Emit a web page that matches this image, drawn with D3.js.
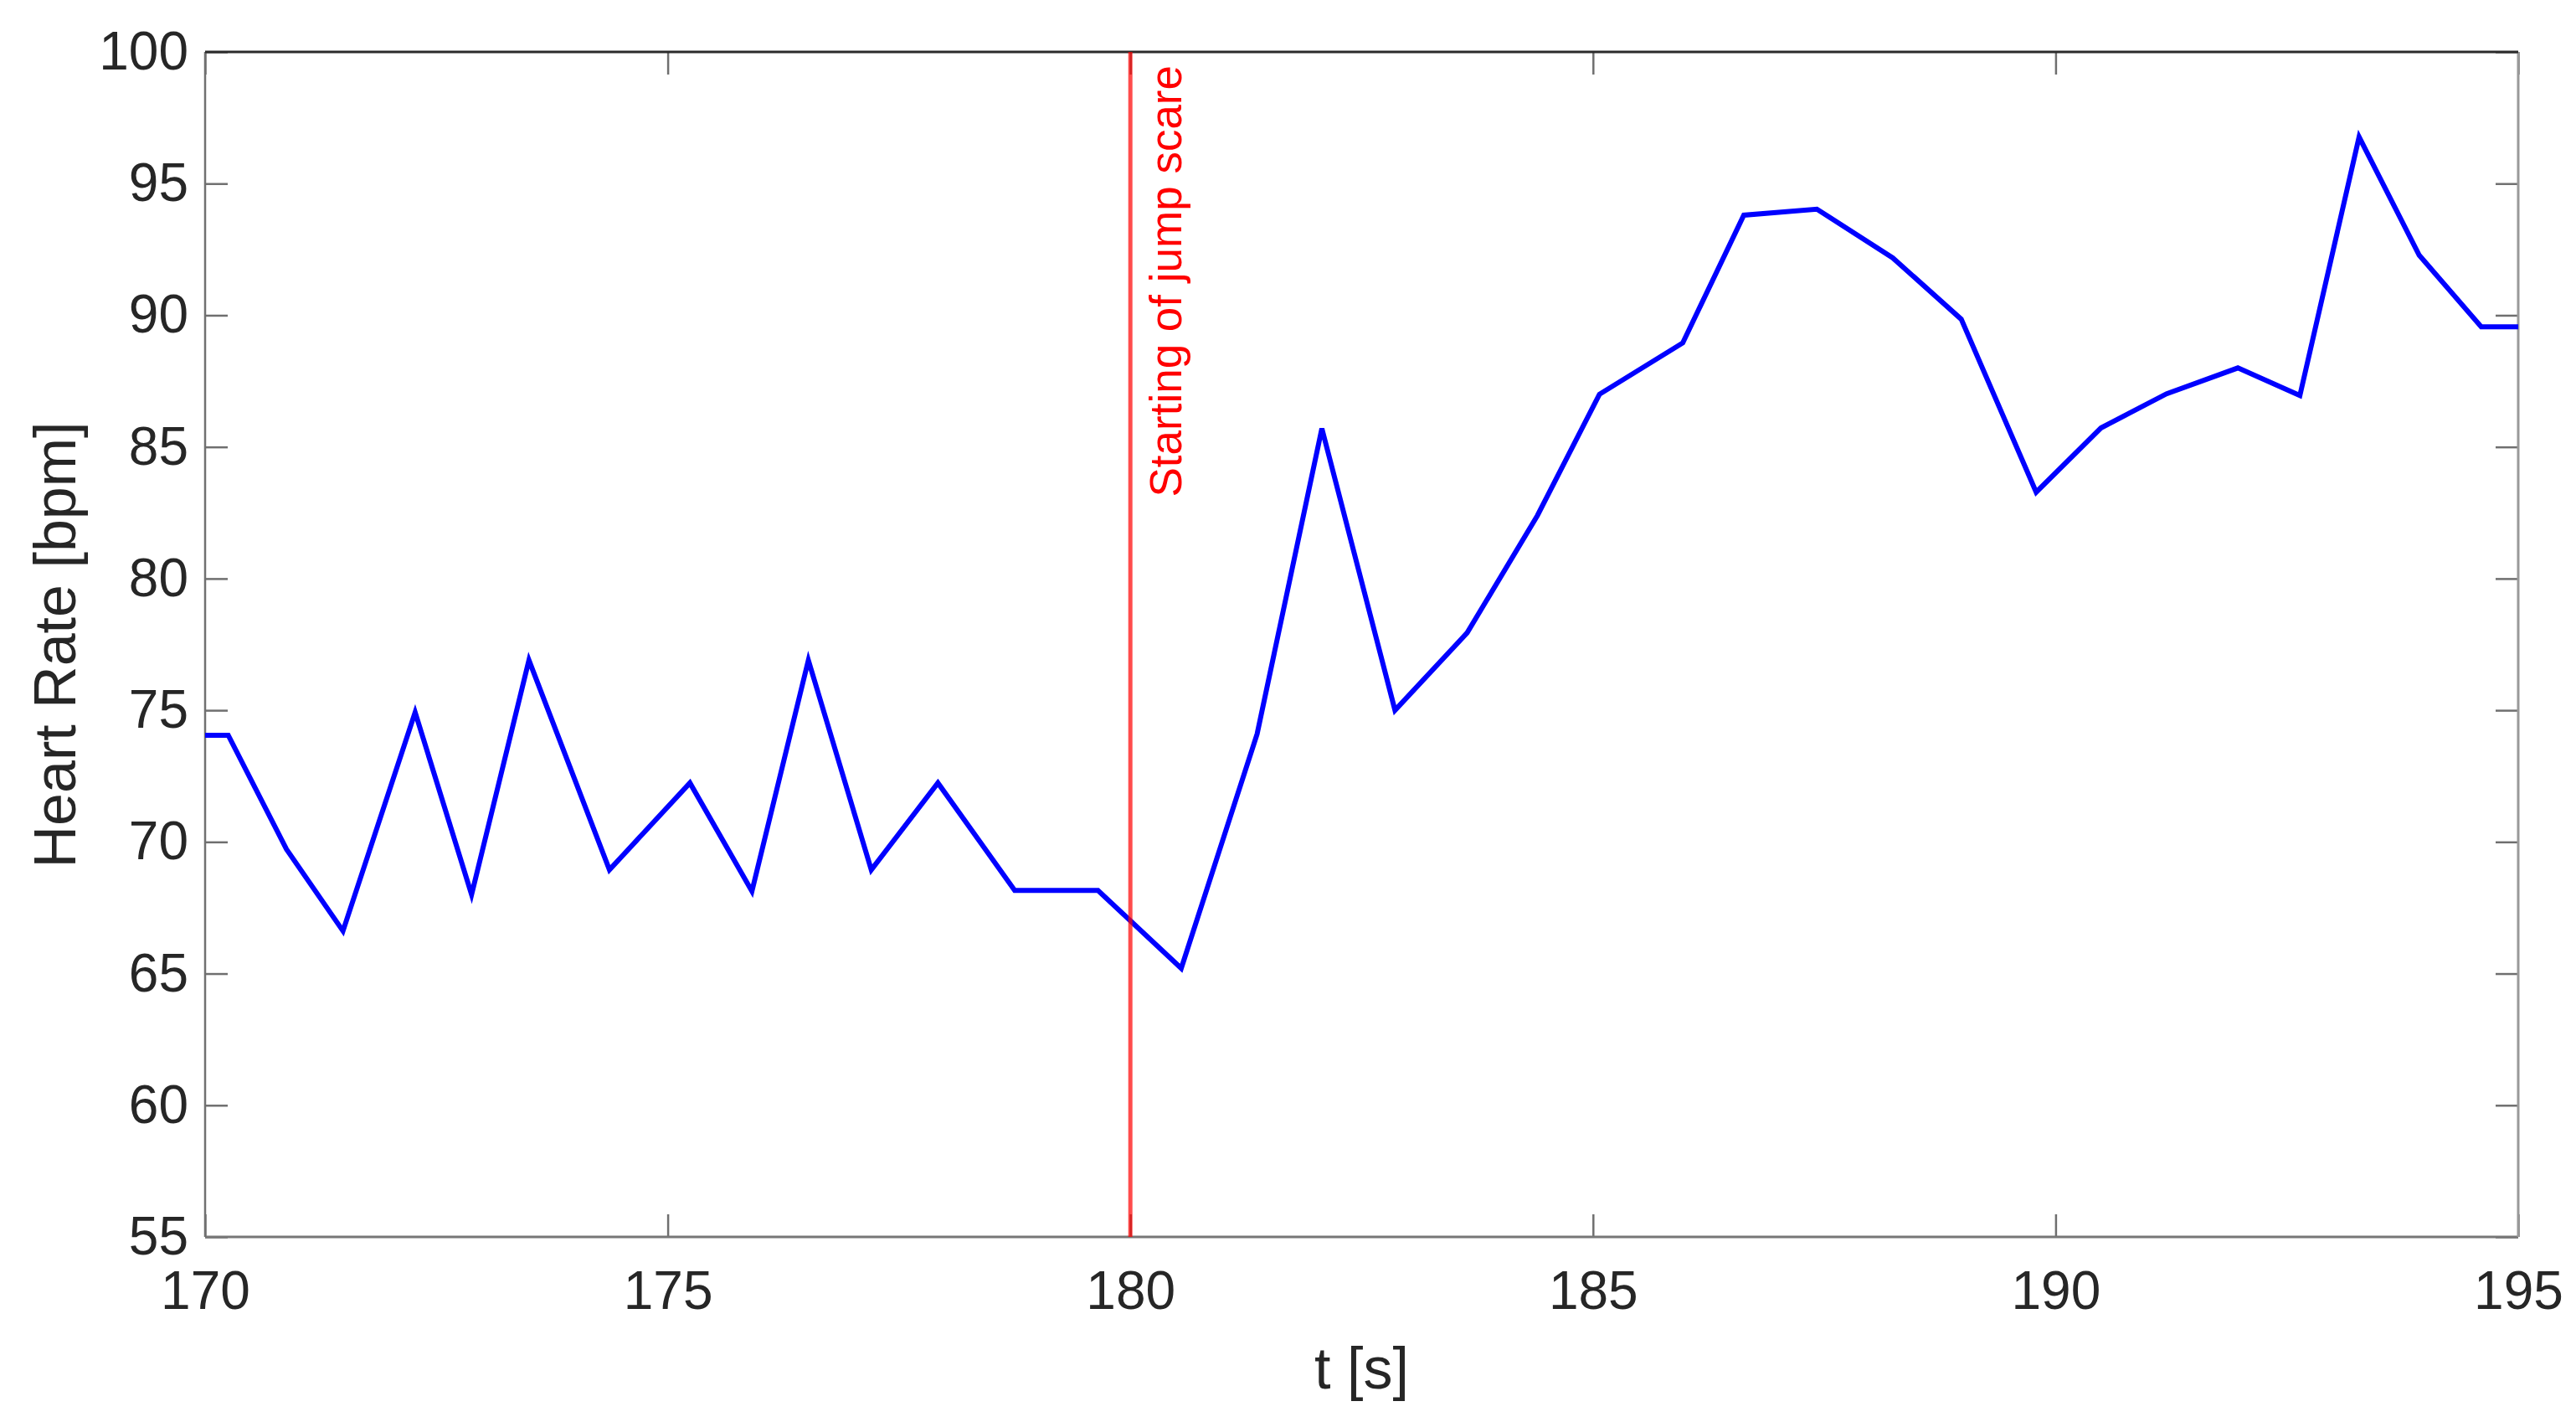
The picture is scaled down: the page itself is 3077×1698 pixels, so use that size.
<!DOCTYPE html>
<html>
<head>
<meta charset="utf-8">
<script src="https://cdn.jsdelivr.net/npm/d3@7"></script>
<style>
  html, body { margin: 0; padding: 0; background: #fff; }
  svg { display: block; font-family: "Liberation Sans", Arial, sans-serif; }
</style>
</head>
<body>
<svg id="chart" width="3077" height="1698"></svg>
<script>
// ---- data ----
const timeS = [170, 170.25, 170.88, 171.49, 172.27, 172.88, 173.5, 174.37, 175.24, 175.91,
               176.52, 177.2, 177.92, 178.75, 179.65, 180.55, 181.37, 182.07, 182.86, 183.64,
               184.4, 185.07, 185.97, 186.63, 187.42, 188.24, 188.98, 189.79, 190.49, 191.2,
               191.97, 192.64, 193.28, 193.93, 194.6, 195];
const heartRate = [74.05, 74.05, 69.72, 66.62, 74.92, 68.0, 76.9, 68.94, 72.24, 68.13,
                   76.9, 68.94, 72.24, 68.16, 68.16, 65.2, 74.1, 85.7, 75.0, 77.94,
                   82.4, 87.0, 88.95, 93.8, 94.03, 92.18, 89.85, 83.28, 85.72, 87.02,
                   88.0, 86.95, 96.77, 92.28, 89.56, 89.56];
const xTicks = [170, 175, 180, 185, 190, 195];
const yTicks = [55, 60, 65, 70, 75, 80, 85, 90, 95, 100];
const eventTime = 180;
const eventLabel = "Starting of jump scare";
const xLabel = "t [s]";
const yLabel = "Heart Rate [bpm]";

// ---- layout ----
const L = 245, R = 3008, T = 62, B = 1477;
const svg = d3.select("#chart");
svg.append("rect").attr("width", 3077).attr("height", 1698).attr("fill", "#fff");

const x = d3.scaleLinear().domain([170, 195]).range([L, R]);
const y = d3.scaleLinear().domain([55, 100]).range([B, T]);

const tickCol = "#6f6f6f";
const textCol = "#262626";
const tickFont = 64;

// bottom axis
const gB = svg.append("g").attr("transform", `translate(0,${B})`)
  .call(d3.axisBottom(x).tickValues(xTicks).tickFormat(d3.format("d"))
        .tickSizeInner(-27).tickSizeOuter(0).tickPadding(41));
// left axis
const gL = svg.append("g").attr("transform", `translate(${L},0)`)
  .call(d3.axisLeft(y).tickValues(yTicks).tickFormat(d3.format("d"))
        .tickSizeInner(-27).tickSizeOuter(0).tickPadding(20));
// top & right mirrored ticks
const gT = svg.append("g").attr("transform", `translate(0,${T})`)
  .call(d3.axisTop(x).tickValues(xTicks).tickFormat("").tickSizeInner(-27).tickSizeOuter(0));
const gR = svg.append("g").attr("transform", `translate(${R},0)`)
  .call(d3.axisRight(y).tickValues(yTicks).tickFormat("").tickSizeInner(-27).tickSizeOuter(0));

[gB, gL, gT, gR].forEach(g => {
  g.select(".domain").remove();
  g.selectAll(".tick line").attr("stroke", tickCol).attr("stroke-width", 2.5);
  g.selectAll(".tick text").attr("fill", textCol)
    .attr("font-size", tickFont).attr("font-family", "Liberation Sans, Arial, sans-serif");
});

// frame
svg.append("line").attr("x1", L).attr("x2", R).attr("y1", B).attr("y2", B)
  .attr("stroke", "#777").attr("stroke-width", 3);
svg.append("line").attr("x1", L).attr("x2", L).attr("y1", T).attr("y2", B)
  .attr("stroke", "#707070").attr("stroke-width", 2.5);
svg.append("line").attr("x1", R).attr("x2", R).attr("y1", T).attr("y2", B)
  .attr("stroke", "#999").attr("stroke-width", 3);
svg.append("line").attr("x1", L).attr("x2", R).attr("y1", T).attr("y2", T)
  .attr("stroke", "#2b2b2b").attr("stroke-width", 3);

// clip
svg.append("clipPath").attr("id", "clip").append("rect")
  .attr("x", L).attr("y", T).attr("width", R - L).attr("height", B - T);

// data line
const pts = timeS.map((t, i) => [t, heartRate[i]]);
svg.append("path").datum(pts)
  .attr("clip-path", "url(#clip)")
  .attr("fill", "none").attr("stroke", "#0000ff").attr("stroke-width", 6)
  .attr("stroke-linejoin", "miter")
  .attr("d", d3.line().x(d => x(d[0])).y(d => y(d[1])));

// event line
svg.append("line")
  .attr("x1", x(eventTime)).attr("x2", x(eventTime)).attr("y1", T).attr("y2", B)
  .attr("stroke", "#ff0000").attr("stroke-opacity", 0.7).attr("stroke-width", 5);
svg.append("text")
  .attr("transform", `translate(${x(eventTime) + 61},${T + 16}) rotate(-90)`)
  .attr("text-anchor", "end").attr("fill", "#ff0000").attr("font-size", 53)
  .text(eventLabel);

// axis labels
svg.append("text").attr("x", (L + R) / 2).attr("y", 1658)
  .attr("text-anchor", "middle").attr("fill", textCol).attr("font-size", 70)
  .text(xLabel);
svg.append("text")
  .attr("transform", `translate(90,${770}) rotate(-90)`)
  .attr("text-anchor", "middle").attr("fill", textCol).attr("font-size", 70)
  .text(yLabel);
</script>
</body>
</html>
